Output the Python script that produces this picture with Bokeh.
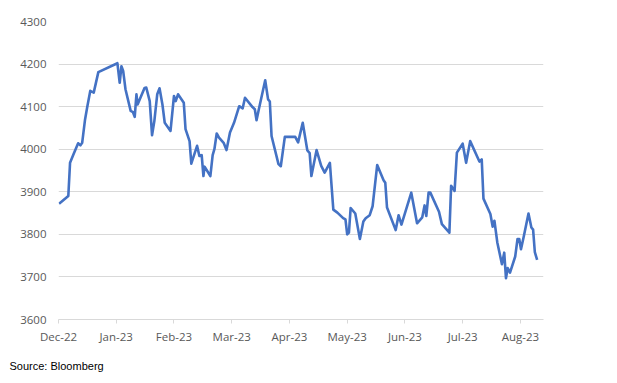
from bokeh.plotting import figure
from bokeh.models import FixedTicker, Range1d, Title
from bokeh.embed import file_html
from bokeh.resources import INLINE

# x position in months since Dec-22 (equal-width months as in the source axis)
month_pos = [0.01, 0.17, 0.20, 0.26, 0.34, 0.38, 0.41, 0.46, 0.50, 0.55, 0.61, 0.69,
             1.02, 1.06, 1.09, 1.12, 1.16, 1.25, 1.29, 1.32, 1.35, 1.37, 1.49, 1.52,
             1.58, 1.62, 1.66, 1.71, 1.75, 1.80, 1.84, 1.94, 2.00, 2.03, 2.07, 2.17,
             2.20, 2.27, 2.30, 2.40, 2.44, 2.48, 2.51, 2.53, 2.63, 2.67, 2.70, 2.74,
             2.78, 2.86, 2.91, 2.97, 3.04, 3.13, 3.19, 3.23, 3.36, 3.40, 3.43, 3.47,
             3.58, 3.63, 3.66, 3.69, 3.81, 3.85, 3.92, 4.10, 4.15, 4.23, 4.31, 4.35,
             4.38, 4.47, 4.55, 4.61, 4.70, 4.76, 4.83, 4.93, 4.97, 5.00, 5.03, 5.06,
             5.14, 5.22, 5.28, 5.32, 5.39, 5.44, 5.52, 5.63, 5.66, 5.69, 5.84, 5.89,
             5.94, 6.11, 6.21, 6.30, 6.34, 6.37, 6.41, 6.44, 6.59, 6.64, 6.77, 6.80,
             6.86, 6.90, 7.00, 7.06, 7.13, 7.29, 7.33, 7.36, 7.48, 7.52, 7.55, 7.60,
             7.68, 7.72, 7.75, 7.78, 7.82, 7.91, 7.95, 7.98, 8.01, 8.06, 8.14, 8.19,
             8.22, 8.25, 8.29]
values = [3872, 3890, 3968, 3988, 4014, 4009, 4015, 4070, 4101, 4137, 4133, 4181,
          4202, 4156, 4195, 4184, 4141, 4090, 4087, 4076, 4129, 4105, 4144, 4145,
          4113, 4033, 4066, 4129, 4143, 4105, 4062, 4043, 4125, 4113, 4129, 4109,
          4047, 4019, 3966, 4008, 3984, 3986, 3937, 3959, 3937, 3986, 4000, 4037,
          4027, 4015, 3998, 4039, 4062, 4101, 4096, 4121, 4099, 4094, 4068, 4094,
          4162, 4117, 4112, 4031, 3965, 3960, 4029, 4029, 4016, 4062, 3997, 3991,
          3937, 3998, 3961, 3945, 3968, 3858, 3851, 3838, 3835, 3800, 3804, 3862,
          3849, 3789, 3830, 3838, 3845, 3866, 3963, 3927, 3921, 3863, 3810, 3845,
          3823, 3898, 3826, 3840, 3868, 3843, 3898, 3898, 3853, 3824, 3804, 3914,
          3902, 3992, 4013, 3968, 4019, 3971, 3976, 3884, 3848, 3818, 3832, 3781,
          3730, 3757, 3697, 3721, 3710, 3748, 3789, 3789, 3765, 3796, 3849, 3816,
          3811, 3758, 3740]

month_ticks = [0, 1, 2, 3, 4, 5, 6, 7, 8]
month_labels = ["Dec-22", "Jan-23", "Feb-23", "Mar-23", "Apr-23",
                "May-23", "Jun-23", "Jul-23", "Aug-23"]
y_ticks = [3600, 3700, 3800, 3900, 4000, 4100, 4200, 4300]

p = figure(width=609, height=383, output_backend="svg", toolbar_location=None,
           x_range=Range1d(0, 8.40), y_range=Range1d(3600, 4300),
           min_border_left=58, min_border_right=66, min_border_top=21,
           min_border_bottom=64)
p.outline_line_color = None
p.background_fill_color = "white"

p.line(month_pos, values, line_color="#4472C4", line_width=2.6, line_join="round")

grid_c = "#d9d9d9"
p.xgrid.grid_line_color = None
p.ygrid.grid_line_color = grid_c
p.ygrid.grid_line_width = 1
p.ygrid.ticker = FixedTicker(ticks=y_ticks)

p.yaxis.ticker = FixedTicker(ticks=y_ticks)
p.yaxis.axis_line_color = None
p.yaxis.major_tick_line_color = None
p.yaxis.major_tick_in = 0
p.yaxis.major_tick_out = 0
p.yaxis.minor_tick_line_color = None
p.yaxis.major_label_standoff = 12
p.yaxis.major_label_text_align = "right"
p.yaxis.major_label_text_font = "Open Sans"
p.yaxis.major_label_text_font_size = "11.5px"
p.yaxis.major_label_text_color = "#595959"

p.xaxis.ticker = FixedTicker(ticks=month_ticks)
p.xaxis.major_label_overrides = {t: l for t, l in zip(month_ticks, month_labels)}
p.xaxis.axis_line_color = grid_c
p.xaxis.major_tick_line_color = grid_c
p.xaxis.major_tick_in = 0
p.xaxis.major_tick_out = 4
p.xaxis.minor_tick_line_color = None
p.xaxis.major_label_standoff = 5
p.xaxis.major_label_text_font = "Open Sans"
p.xaxis.major_label_text_font_size = "11.5px"
p.xaxis.major_label_text_color = "#595959"

src = Title(text="Source: Bloomberg", align="left", offset=-49, standoff=23,
            text_font="Liberation Sans", text_font_size="11px",
            text_font_style="normal", text_color="black")
p.add_layout(src, "below")

open("out.html", "w").write(file_html(p, INLINE))
